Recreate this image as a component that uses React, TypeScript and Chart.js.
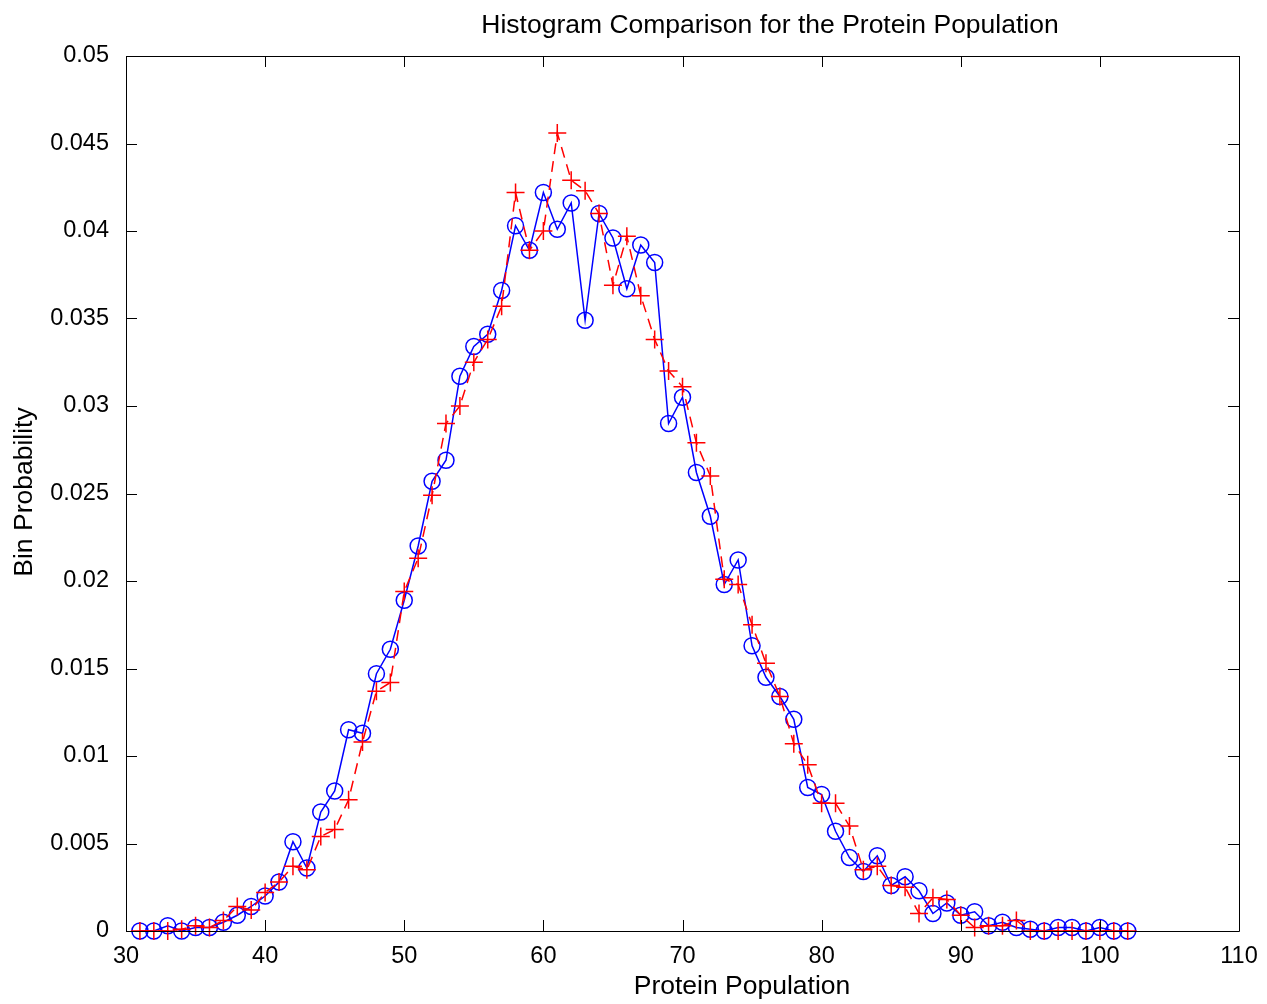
import React, { useEffect, useRef } from "react";
import { Chart, registerables } from "chart.js";

Chart.register(...registerables);

const xValues = [31,32,33,34,35,36,37,38,39,40,41,42,43,44,45,46,47,48,49,50,51,52,53,54,55,56,57,58,59,60,61,62,63,64,65,66,67,68,69,70,71,72,73,74,75,76,77,78,79,80,81,82,83,84,85,86,87,88,89,90,91,92,93,94,95,96,97,98,99,100,101,102];

const blueSeries = [0,0,0.0003,0,0.0002,0.0002,0.0005,0.0009,0.0014,0.002,0.0028,0.0051,0.0036,0.0068,0.008,0.0115,0.0113,0.0147,0.0161,0.0189,0.022,0.0257,0.0269,0.0317,0.0334,0.0341,0.0366,0.0403,0.0389,0.0422,0.0401,0.0416,0.0349,0.041,0.0396,0.0367,0.0392,0.0382,0.029,0.0305,0.0262,0.0237,0.0198,0.0212,0.0163,0.0145,0.0134,0.0121,0.0082,0.0078,0.0057,0.0042,0.0034,0.0043,0.0026,0.0031,0.0023,0.001,0.0016,0.0009,0.0011,0.0003,0.0005,0.0002,0.0001,0,0.0002,0.0002,0,0.0002,0,0];

const redSeries = [0,0,0,0.0001,0.0003,0.0002,0.0006,0.0014,0.0012,0.0022,0.0028,0.0037,0.0035,0.0054,0.0058,0.0075,0.0108,0.0137,0.0142,0.0194,0.0213,0.0249,0.029,0.03,0.0325,0.0338,0.0357,0.0422,0.0389,0.04,0.0456,0.0429,0.0423,0.041,0.0369,0.0397,0.0363,0.0338,0.032,0.0311,0.0279,0.026,0.0201,0.0198,0.0175,0.0153,0.0134,0.0107,0.0095,0.0073,0.0073,0.006,0.0035,0.0037,0.0026,0.0025,0.001,0.0019,0.0018,0.0009,0.0002,0.0003,0.0003,0.0006,0,0,0,0,0,0,0,0];

const xTicks = [30,40,50,60,70,80,90,100,110];
const yTicks = [0,0.005,0.01,0.015,0.02,0.025,0.03,0.035,0.04,0.045,0.05];

const titleText = "Histogram Comparison for the Protein Population";
const xLabel = "Protein Population";
const yLabel = "Bin Probability";

const FONT = "Liberation Sans, Arial, Helvetica, sans-serif";
const TICK_FS = 23.5;
const LABEL_FS = 26.5;

const framePlugin = {
  id: "frame",
  afterDraw(chart: any) {
    const { ctx, chartArea } = chart;
    const { left, right, top, bottom } = chartArea;
    const xs = chart.scales.x;
    const ys = chart.scales.y;
    ctx.save();
    ctx.strokeStyle = "#000";
    ctx.lineWidth = 1;
    ctx.beginPath();
    ctx.rect(left + 0.5, top + 0.5, right - left, bottom - top);
    const tl = 11;
    xTicks.forEach((v) => {
      const px = Math.round(xs.getPixelForValue(v)) + 0.5;
      ctx.moveTo(px, bottom);
      ctx.lineTo(px, bottom - tl);
      ctx.moveTo(px, top);
      ctx.lineTo(px, top + tl);
    });
    yTicks.forEach((v) => {
      const py = Math.round(ys.getPixelForValue(v)) + 0.5;
      ctx.moveTo(left, py);
      ctx.lineTo(left + tl, py);
      ctx.moveTo(right, py);
      ctx.lineTo(right - tl, py);
    });
    ctx.stroke();
    ctx.fillStyle = "#000";
    ctx.font = `${LABEL_FS}px ${FONT}`;
    ctx.textAlign = "center";
    ctx.textBaseline = "middle";
    ctx.fillText(titleText, 770, 26);
    ctx.fillText(xLabel, 742, 987);
    ctx.translate(25, 492);
    ctx.rotate(-Math.PI / 2);
    ctx.fillText(yLabel, 0, 0);
    ctx.restore();
  },
};

export default function App() {
  const ref = useRef<HTMLCanvasElement>(null);
  useEffect(() => {
    document.body.style.margin = "0";
    const canvas = ref.current!;
    const chart = new Chart(canvas, {
      type: "scatter",
      data: {
        datasets: [
          {
            label: "red",
            data: xValues.map((x, i) => ({ x, y: redSeries[i] })),
            showLine: true,
            borderColor: "#ff0000",
            borderWidth: 1.5,
            borderDash: [11, 7],
            pointStyle: "cross",
            pointRadius: 9,
            pointBorderWidth: 1.5,
            pointBorderColor: "#ff0000",
            pointBackgroundColor: "transparent",
            clip: false as any,
          },
          {
            label: "blue",
            data: xValues.map((x, i) => ({ x, y: blueSeries[i] })),
            showLine: true,
            borderColor: "#0000ff",
            borderWidth: 1.5,
            pointStyle: "circle",
            pointRadius: 8,
            pointBorderWidth: 1.5,
            pointBorderColor: "#0000ff",
            pointBackgroundColor: "transparent",
            clip: false as any,
          },
        ],
      },
      options: {
        animation: false,
        responsive: false,
        devicePixelRatio: 1,
        layout: { padding: { left: 0, top: 56, right: 28, bottom: 0 } },
        plugins: {
          legend: { display: false },
          tooltip: { enabled: false },
          title: { display: false },
        },
        scales: {
          x: {
            type: "linear",
            min: 30,
            max: 110,
            afterFit: (s: any) => { s.height = 73; },
            afterBuildTicks: (s: any) => { s.ticks = xTicks.map((v) => ({ value: v })); },
            grid: { display: false },
            border: { display: false },
            ticks: {
              color: "#000",
              font: { family: FONT, size: TICK_FS },
              padding: 3,
              maxRotation: 0,
              callback: (v: any) => String(v),
            },
          },
          y: {
            type: "linear",
            min: 0,
            max: 0.05,
            afterFit: (s: any) => { s.width = 126; },
            afterBuildTicks: (s: any) => { s.ticks = yTicks.map((v) => ({ value: v })); },
            grid: { display: false },
            border: { display: false },
            ticks: {
              color: "#000",
              font: { family: FONT, size: TICK_FS },
              padding: 9,
              callback: (v: any) => String(Number(Number(v).toFixed(4))),
            },
          },
        },
      },
      plugins: [framePlugin],
    });
    return () => chart.destroy();
  }, []);
  return (
    <div style={{ width: 1267, height: 1004, background: "#fff" }}>
      <canvas ref={ref} width={1267} height={1004} style={{ display: "block" }} />
    </div>
  );
}
